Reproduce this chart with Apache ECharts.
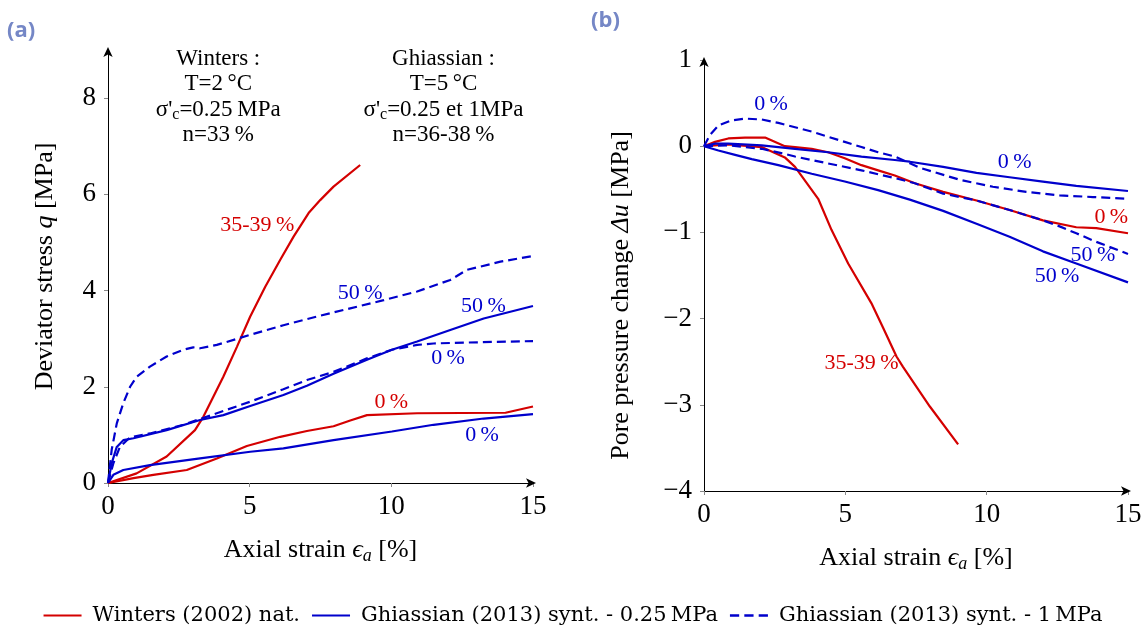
<!DOCTYPE html>
<html>
<head>
<meta charset="utf-8">
<script src="https://cdn.jsdelivr.net/npm/echarts@6/dist/echarts.min.js"></script>
<style>html,body{margin:0;padding:0;background:#fff}#c{width:1146px;height:627px}</style>
</head>
<body>
<div id="c"></div>
<script>
// ---------- DATA ----------
// Panel (a): deviator stress q [MPa] vs axial strain [%]
const a_winters_3539 = [[0,0],[1.01,0.20],[2.07,0.55],[3.07,1.10],[3.37,1.38],[4.07,2.21],[4.55,2.83],[5.02,3.46],[5.55,4.08],[6.08,4.64],[6.55,5.12],[7.08,5.61],[7.49,5.88],[7.96,6.16],[8.90,6.61]];
const a_winters_0 = [[0,0],[0.90,0.10],[1.60,0.17],[2.78,0.27],[3.84,0.51],[4.90,0.77],[6.08,0.96],[7.02,1.08],[7.96,1.18],[8.55,1.30],[9.14,1.41],[10.91,1.45],[14.03,1.46],[15.0,1.59]];
const a_g025_0 = [[0,0],[0.19,0.17],[0.54,0.27],[1.48,0.37],[3.25,0.51],[5.02,0.65],[6.19,0.72],[7.96,0.89],[10.02,1.07],[11.49,1.21],[13.26,1.34],[15.0,1.43]];
const a_g025_50 = [[0,0],[0.13,0.41],[0.31,0.75],[0.54,0.89],[0.90,0.93],[2.07,1.10],[3.25,1.31],[4.07,1.41],[5.02,1.60],[6.19,1.83],[7.02,2.02],[7.96,2.27],[9.14,2.56],[10.02,2.77],[10.91,2.94],[12.08,3.18],[13.26,3.42],[15.0,3.68]];
const a_g1_0 = [[0,0],[0.19,0.41],[0.42,0.75],[0.78,0.95],[1.48,1.03],[2.66,1.21],[3.84,1.45],[5.02,1.69],[6.19,1.95],[7.02,2.14],[7.96,2.31],[9.14,2.59],[10.02,2.77],[10.91,2.87],[11.49,2.90],[12.67,2.92],[15.0,2.95]];
const a_g1_50 = [[0,0],[0.13,0.69],[0.31,1.24],[0.54,1.66],[0.78,2.00],[1.01,2.21],[1.48,2.42],[2.07,2.63],[2.66,2.77],[3.01,2.82],[3.25,2.80],[3.84,2.87],[5.02,3.08],[6.19,3.28],[7.37,3.46],[8.55,3.63],[9.73,3.80],[10.91,3.98],[12.08,4.22],[12.67,4.43],[13.85,4.60],[15.0,4.72]];

// Panel (b): pore pressure change Δu [MPa] vs axial strain [%]
const b_winters_3539 = [[0,0],[0.86,0.02],[2.04,-0.01],[2.86,-0.13],[3.22,-0.24],[4.04,-0.61],[4.51,-0.97],[5.10,-1.36],[5.92,-1.82],[6.34,-2.11],[6.81,-2.44],[7.04,-2.56],[7.99,-3.02],[8.99,-3.46]];
const b_winters_0 = [[0,0],[0.39,0.05],[0.86,0.09],[1.45,0.10],[2.16,0.10],[2.86,0.0],[3.22,-0.01],[3.81,-0.03],[4.39,-0.07],[4.98,-0.14],[5.57,-0.22],[6.16,-0.28],[6.75,-0.34],[7.46,-0.43],[8.46,-0.53],[9.64,-0.63],[10.81,-0.74],[11.99,-0.86],[13.17,-0.94],[13.88,-0.95],[15.0,-1.01]];
const b_g025_0 = [[0,0],[0.39,0.03],[0.86,0.03],[2.04,0.01],[3.22,-0.03],[4.39,-0.07],[5.57,-0.12],[6.75,-0.16],[7.28,-0.18],[8.46,-0.24],[9.64,-0.31],[10.81,-0.36],[11.99,-0.41],[13.17,-0.46],[15.0,-0.52]];
const b_g025_50 = [[0,0],[0.51,-0.05],[1.10,-0.10],[1.69,-0.15],[2.63,-0.22],[3.81,-0.32],[4.98,-0.41],[6.16,-0.51],[7.28,-0.62],[8.46,-0.75],[9.64,-0.90],[10.81,-1.05],[11.99,-1.22],[13.17,-1.36],[15.0,-1.58]];
const b_g1_0 = [[0,0],[0.21,0.13],[0.51,0.24],[0.98,0.30],[1.45,0.32],[2.04,0.31],[2.63,0.27],[3.22,0.22],[3.81,0.17],[4.39,0.11],[4.98,0.05],[5.57,-0.01],[6.16,-0.07],[6.75,-0.12],[7.63,-0.25],[9.05,-0.39],[10.22,-0.47],[11.40,-0.53],[12.58,-0.57],[13.76,-0.59],[15.0,-0.61]];
const b_g1_50 = [[0,0],[0.86,0.01],[2.04,-0.03],[2.86,-0.09],[3.22,-0.12],[4.39,-0.20],[5.57,-0.28],[6.75,-0.37],[7.46,-0.43],[8.46,-0.55],[9.64,-0.63],[10.81,-0.74],[11.99,-0.86],[12.58,-0.93],[13.17,-1.01],[13.88,-1.11],[15.0,-1.25]];

// Axis ticks
const xTicks = [0, 5, 10, 15];
const aYTicks = [0, 2, 4, 6, 8];
const bYTicks = [-4, -3, -2, -1, 0, 1];

// Legend names
const NAME_W = 'Winters (2002) nat.';
const NAME_G025 = 'Ghiassian (2013) synt. - 0.25\u2009MPa';
const NAME_G1 = 'Ghiassian (2013) synt. - 1\u2009MPa';

// Curve labels [x, y, text, group]
const a_labels = [[5.27,5.36,'35-39\u2009%','w'],[8.90,3.95,'50\u2009%','g'],[13.25,3.68,'50\u2009%','g'],[12.0,2.60,'0\u2009%','g'],[10.0,1.68,'0\u2009%','w'],[13.2,1.00,'0\u2009%','g']];
const b_labels = [[2.37,0.49,'0\u2009%','g'],[10.99,-0.19,'0\u2009%','g'],[14.41,-0.82,'0\u2009%','w'],[13.76,-1.26,'50\u2009%','g'],[12.49,-1.51,'50\u2009%','g'],[5.57,-2.52,'35-39\u2009%','w']];
// Test-condition notes [x, y, text]
const a_notes = [[3.89,8.02,"Winters :\nT=2\u2009°C\nσ'{s|c}=0.25\u2009MPa\nn=33\u2009%"],[11.84,8.02,"Ghiassian :\nT=5\u2009°C\nσ'{s|c}=0.25 et 1MPa\nn=36-38\u2009%"]];

// ---------- STYLE ----------
const RED = '#d40000', BLUE = '#0000cc';
const SERIF = "'Liberation Serif', 'DejaVu Serif', serif";
const chart = echarts.init(document.getElementById('c'), null, {renderer: 'canvas'});

function xAxis(gi) {
  return {
    gridIndex: gi, type: 'value', min: 0, max: 15, interval: 5,
    axisLine: {onZero: false, symbol: ['none', 'arrow'], symbolSize: [7, 10], symbolOffset: [0, 3], lineStyle: {color: '#000', width: 1}},
    axisTick: {show: true, length: 4, lineStyle: {color: '#888'}},
    splitLine: {show: false},
    axisLabel: {color: '#000', fontFamily: SERIF, fontSize: 27, margin: 10, customValues: xTicks},
    name: 'Axial strain {i|ϵ}{s|a} [%]', nameLocation: 'middle', nameGap: 52,
    nameTextStyle: {color: '#000', fontFamily: SERIF, fontSize: 26, lineHeight: 30,
      rich: {i: {fontFamily: SERIF, fontSize: 26, fontStyle: 'italic', lineHeight: 30},
             s: {fontFamily: SERIF, fontSize: 18, fontStyle: 'italic', verticalAlign: 'bottom', lineHeight: 20}}}
  };
}
function minus(v) { return String(v).replace('-', '\u2212'); }

const lineBase = (name, data, color, dashed, xi, yi) => ({
  type: 'line', name, data, xAxisIndex: xi, yAxisIndex: yi, symbol: 'none', smooth: false,
  lineStyle: {color, width: 2.2, type: dashed ? [9, 5] : 'solid'},
  itemStyle: {color}, z: 3
});
const labelSeries = (arr, xi, yi) => ({
  type: 'scatter', xAxisIndex: xi, yAxisIndex: yi, symbolSize: 0, silent: true, z: 5,
  data: arr.map(d => ({value: [d[0], d[1]], name: d[2],
    label: {show: true, position: 'inside', formatter: d[2], color: d[3] === 'w' ? RED : BLUE,
      fontFamily: SERIF, fontSize: 22, opacity: 1}}))
});

const SOLID_ICON = 'path://M0,0H38V2.2H0Z';
const DASH_ICON = 'path://M0,0H9V2.2H0Z M14,0H23V2.2H14Z M28,0H37V2.2H28Z';

const option = {
  animation: false,
  backgroundColor: '#fff',
  grid: [
    {left: 108, top: 50, width: 425, height: 433},
    {left: 704, top: 60, width: 424, height: 431}
  ],
  xAxis: [xAxis(0), xAxis(1)],
  yAxis: [
    {gridIndex: 0, type: 'value', min: 0, max: 9,
     axisLine: {onZero: false, symbol: ['none', 'arrow'], symbolSize: [7, 10], symbolOffset: [0, 3], lineStyle: {color: '#000', width: 1}},
     axisTick: {show: true, length: 4, customValues: aYTicks, lineStyle: {color: '#888'}},
     splitLine: {show: false},
     axisLabel: {color: '#000', fontFamily: SERIF, fontSize: 27, margin: 12, customValues: aYTicks},
     name: 'Deviator stress {i|q} [MPa]', nameLocation: 'middle', nameGap: 50, nameRotate: 90,
     nameTextStyle: {color: '#000', fontFamily: SERIF, fontSize: 26,
       rich: {i: {fontFamily: SERIF, fontSize: 26, fontStyle: 'italic'}}}},
    {gridIndex: 1, type: 'value', min: -4, max: 1, interval: 1,
     axisLine: {onZero: false, symbol: ['none', 'arrow'], symbolSize: [7, 10], symbolOffset: [0, 3], lineStyle: {color: '#000', width: 1}},
     axisTick: {show: true, length: 4, lineStyle: {color: '#888'}},
     splitLine: {show: false},
     axisLabel: {color: '#000', fontFamily: SERIF, fontSize: 27, margin: 12, formatter: minus, customValues: bYTicks},
     name: 'Pore pressure change {i|Δu} [MPa]', nameLocation: 'middle', nameGap: 70, nameRotate: 90,
     nameTextStyle: {color: '#000', fontFamily: SERIF, fontSize: 26, padding: [0, 40, 0, 0],
       rich: {i: {fontFamily: SERIF, fontSize: 26, fontStyle: 'italic'}}}}
  ],
  legend: {
    data: [{name: NAME_W, icon: SOLID_ICON}, {name: NAME_G025, icon: SOLID_ICON}, {name: NAME_G1, icon: DASH_ICON}],
    left: 'center', top: 600, itemWidth: 38, itemHeight: 14, itemGap: 12, symbolKeepAspect: true,
    textStyle: {color: '#000', fontFamily: "'DejaVu Serif', serif", fontSize: 21, padding: [0, 0, 0, 6]},
    selectedMode: false
  },
  series: [
    lineBase(NAME_W, a_winters_3539, RED, false, 0, 0),
    lineBase(NAME_W, a_winters_0, RED, false, 0, 0),
    lineBase(NAME_G025, a_g025_0, BLUE, false, 0, 0),
    lineBase(NAME_G025, a_g025_50, BLUE, false, 0, 0),
    lineBase(NAME_G1, a_g1_0, BLUE, true, 0, 0),
    lineBase(NAME_G1, a_g1_50, BLUE, true, 0, 0),
    lineBase(NAME_W, b_winters_3539, RED, false, 1, 1),
    lineBase(NAME_W, b_winters_0, RED, false, 1, 1),
    lineBase(NAME_G025, b_g025_0, BLUE, false, 1, 1),
    lineBase(NAME_G025, b_g025_50, BLUE, false, 1, 1),
    lineBase(NAME_G1, b_g1_0, BLUE, true, 1, 1),
    lineBase(NAME_G1, b_g1_50, BLUE, true, 1, 1),
    labelSeries(a_labels, 0, 0),
    labelSeries(b_labels, 1, 1),
    {type: 'scatter', xAxisIndex: 0, yAxisIndex: 0, symbolSize: 0, silent: true, z: 5,
     data: a_notes.map(d => ({value: [d[0], d[1]],
       label: {show: true, position: 'inside', formatter: d[2], color: '#000', opacity: 1, fontFamily: SERIF,
         fontSize: 23, lineHeight: 25.5, align: 'center',
         rich: {s: {fontFamily: SERIF, fontSize: 16, verticalAlign: 'bottom', lineHeight: 20}}}}))}
  ],
  graphic: [
    {type: 'text', left: 7, top: 20, style: {text: '(a)', fill: '#7587c6', font: "bold 22px 'Open Sans', sans-serif"}},
    {type: 'text', left: 591, top: 10, style: {text: '(b)', fill: '#7587c6', font: "bold 22px 'Open Sans', sans-serif"}}
  ]
};
chart.setOption(option);
</script>
</body>
</html>
